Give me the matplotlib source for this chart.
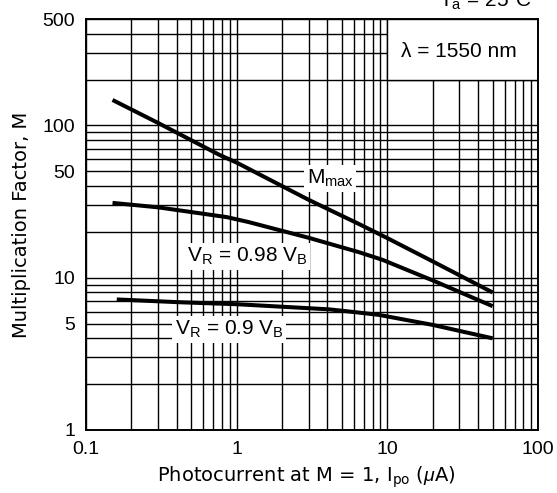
import matplotlib
matplotlib.use("Agg")
import matplotlib.pyplot as plt
from matplotlib.patches import Rectangle
from matplotlib.ticker import FixedLocator, FixedFormatter, LogLocator, NullFormatter

plt.rcParams['font.family'] = ['Liberation Sans', 'DejaVu Sans']
plt.rcParams['mathtext.fontset'] = 'custom'
plt.rcParams['mathtext.rm'] = 'Liberation Sans'
plt.rcParams['mathtext.it'] = 'Liberation Sans:italic'

# Data (photocurrent in uA, multiplication factor M)
mmax_x = [0.15, 0.3, 0.77, 1.0, 3.0, 6.5, 10.0, 20.0, 50.0]
mmax_y = [147, 104, 64, 57, 32.5, 22.5, 18.2, 12.8, 8.0]

v098_x = [0.15, 0.3, 0.86, 1.2, 3.0, 6.5, 9.3, 20.0, 50.0]
v098_y = [31, 29, 25, 23.2, 18.3, 14.7, 13.1, 9.6, 6.5]

v090_x = [0.16, 0.42, 1.0, 4.1, 6.5, 8.8, 20.0, 50.0]
v090_y = [7.2, 6.9, 6.7, 6.2, 5.9, 5.7, 4.9, 4.0]

xticks = [0.1, 1, 10, 100]
xticklabels = ['0.1', '1', '10', '100']
yticks = [1, 5, 10, 50, 100, 500]
yticklabels = ['1', '5', '10', '50', '100', '500']

fig = plt.figure(figsize=(5.57, 4.93), dpi=100)
ax = fig.add_axes([86/557, 1-430/493, (538-86)/557, (430-19)/493])
ax.set_xscale('log')
ax.set_yscale('log')
ax.set_xlim(0.1, 100)
ax.set_ylim(1, 500)

ax.set_axisbelow(True)
ax.xaxis.set_major_locator(FixedLocator(xticks))
ax.xaxis.set_major_formatter(FixedFormatter(xticklabels))
ax.xaxis.set_minor_locator(LogLocator(base=10, subs=range(2, 10)))
ax.xaxis.set_minor_formatter(NullFormatter())
ax.yaxis.set_major_locator(FixedLocator(yticks))
ax.yaxis.set_major_formatter(FixedFormatter(yticklabels))
ax.yaxis.set_minor_locator(LogLocator(base=10, subs=range(1, 10)))
ax.yaxis.set_minor_formatter(NullFormatter())
ax.grid(True, which='both', color='black', lw=1.0)
ax.tick_params(which='both', length=0, labelsize=14, pad=8)
for s in ax.spines.values():
    s.set_linewidth(1.4)

# lambda box
ax.add_patch(Rectangle((10, 200), 90, 300, facecolor='white', edgecolor='black',
                       lw=1.0, zorder=1))
ax.text(12.4, 281, 'λ = 1550 nm', fontsize=15, ha='left', va='baseline', zorder=5)

lw = 2.9
ax.plot(mmax_x, mmax_y, color='black', lw=lw, zorder=3, solid_capstyle='butt')
ax.plot(v098_x, v098_y, color='black', lw=lw, zorder=3, solid_capstyle='butt')
ax.plot(v090_x, v090_y, color='black', lw=lw, zorder=3, solid_capstyle='butt')

bb = dict(facecolor='white', edgecolor='none', pad=2)
ax.text(2.91, 41.2, r'M$_\mathregular{max}$', fontsize=15, ha='left', va='baseline',
        bbox=bb, zorder=4)
ax.text(0.467, 12.7, r'V$_\mathregular{R}$ = 0.98 V$_\mathregular{B}$', fontsize=15,
        ha='left', va='baseline', bbox=bb, zorder=4)
ax.text(0.388, 4.2, r'V$_\mathregular{R}$ = 0.9 V$_\mathregular{B}$', fontsize=15,
        ha='left', va='baseline', bbox=bb, zorder=4)

fig.text(532/557, 1-7/493, r'T$_\mathregular{a}$ = 25°C', fontsize=15, ha='right',
         va='baseline')

fig.text(306/557, 1-477/493, r'Photocurrent at M = 1, I$_\mathregular{po}$ ($\mu$A)',
         fontsize=14, ha='center', va='center', family='DejaVu Sans')
fig.text(22/557, 1-225/493, 'Multiplication Factor, M', fontsize=14, rotation=90,
         ha='center', va='center', family='DejaVu Sans')

fig.savefig('out.png', dpi=100)
